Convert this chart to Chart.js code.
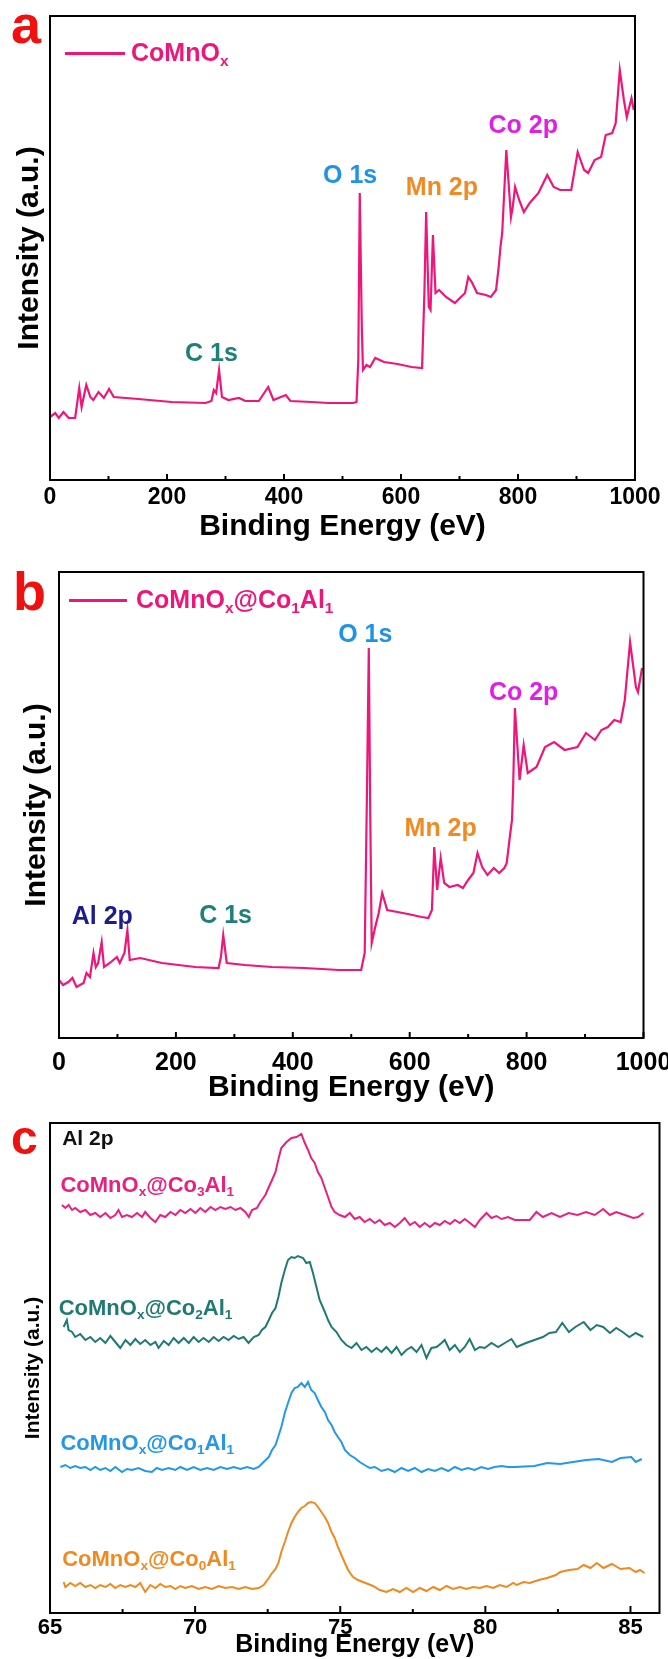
<!DOCTYPE html>
<html>
<head>
<meta charset="utf-8">
<title>XPS spectra</title>
<script src="https://cdn.jsdelivr.net/npm/chart.js@4.4.1/dist/chart.umd.min.js"></script>
<style>
  html, body { margin: 0; padding: 0; background: #fff; }
  #page { position: relative; width: 668px; height: 1659px; overflow: hidden;
          font-family: 'Liberation Sans', Arial, sans-serif; font-weight: bold; }
  #page canvas { position: absolute; left: 0; }
  .txt { position: absolute; white-space: nowrap; line-height: 1; }
  .txt sub { font-size: 0.62em; vertical-align: baseline; position: relative; top: 0.32em; }
  .letter { color: #f01010; }
  .legline { position: absolute; height: 3px; background: #ee1679; }
</style>
</head>
<body>
<div id="page">
  <canvas id="chart-a" width="668" height="545" style="top:0"></canvas>
  <canvas id="chart-b" width="668" height="560" style="top:545px"></canvas>
  <canvas id="chart-c" width="668" height="554" style="top:1105px"></canvas>

  <div class="txt letter" style="left:11px; top:-3px; font-size:54px;">a</div>
  <div class="txt letter" style="left:13px; top:564px; font-size:54px;">b</div>
  <div class="txt letter" style="left:11px; top:1114px; font-size:48px;">c</div>

  <div class="legline" style="left:65px; top:52px; width:60px;"></div>
  <div class="txt" style="left:131px; top:40px; font-size:25px; color:#ee1679;">CoMnO<sub>x</sub></div>
  <div class="legline" style="left:69px; top:599px; width:58px;"></div>
  <div class="txt" style="left:136px; top:587px; font-size:25px; color:#ee1679;">CoMnO<sub>x</sub>@Co<sub>1</sub>Al<sub>1</sub></div>
</div>

<script>
// ---- panel a: survey of CoMnOx (binding energy eV / intensity a.u.)
const surveyA_eV = [0, 9, 15, 23, 32, 43, 50, 54, 62, 69, 74, 83, 92, 101, 109, 151, 208, 266, 276, 280,
  284, 289, 294, 305, 323, 334, 357, 373, 382, 403, 411, 447, 476, 518, 524, 527, 529.5, 533, 535, 541,
  547, 556, 571, 594, 618, 636, 640, 643, 647.5, 650.5, 654.6, 659, 665, 677, 692, 700.6, 709.5, 715, 721, 730,
  745, 753.6, 762.5, 767, 770, 773, 780, 788, 791, 795, 802, 810, 820, 835, 850, 861, 872, 891, 902, 913,
  920, 931, 942, 950, 961, 967, 974, 981, 986, 994, 998];
const surveyA_int = [63, 67, 62, 68, 62, 62, 92, 73, 95, 83, 80, 88, 82, 91, 83, 81, 78, 77, 79, 90,
  87, 110, 83, 80, 82, 79, 79, 93, 80, 85, 79, 78, 77, 77, 78, 120, 287, 153, 110, 115,
  113, 122, 118, 116, 113, 112, 187, 268, 173, 170, 245, 187, 190, 183, 177, 182, 187, 203, 198, 187,
  185, 183, 190, 213, 233, 247, 330, 263, 273, 293, 280, 268, 277, 287, 305, 293, 290, 290, 328, 310,
  307, 320, 323, 345, 347, 357, 410, 380, 363, 382, 370];

// ---- panel b: survey of CoMnOx@Co1Al1
const surveyB_eV = [0, 7, 16, 23, 30, 42, 47, 53, 59, 63, 67, 73, 77, 87, 99, 104, 112, 117, 121, 139,
  176, 233, 273, 277, 281, 287, 318, 364, 420, 479, 517, 523, 527, 530, 532.6, 535, 541, 547, 553, 561.5,
  579, 597, 620.5, 632, 638, 642, 647, 653, 659, 668, 682, 691, 700, 709, 716, 724, 733, 744, 753, 762,
  766, 770, 775, 777, 780, 788, 795, 802, 817, 831.5, 847, 865, 887, 901.6, 917, 928, 939, 950, 961, 968,
  977, 987, 990.6, 997.5];
const surveyB_int = [58, 53, 56, 60, 51, 55, 65, 61, 85, 71, 75, 96, 71, 75, 81, 75, 85, 108, 78, 80,
  75, 71, 70, 81, 103, 75, 73, 71, 70, 68, 68, 85, 251, 390, 218, 95, 111, 125, 145, 128,
  126, 124, 121, 120, 128, 191, 148, 180, 155, 151, 153, 150, 158, 165, 185, 171, 163, 170, 165, 170,
  175, 195, 218, 251, 330, 258, 293, 265, 271, 291, 296, 288, 291, 305, 298, 308, 311, 318, 316, 338,
  396, 351, 346, 370];

// ---- panel c: Al 2p region, four samples (offset stack)
const co3_eV = [65.41, 65.53, 65.64, 65.76, 65.87, 66.04, 66.22, 66.39, 66.56, 66.73,
  66.91, 67.08, 67.25, 67.36, 67.48, 67.65, 67.82, 68.0, 68.17, 68.28,
  68.46, 68.63, 68.8, 68.97, 69.15, 69.32, 69.49, 69.66, 69.84, 70.01,
  70.18, 70.35, 70.53, 70.7, 70.87, 71.04, 71.22, 71.39, 71.56, 71.73,
  71.85, 71.96, 72.13, 72.25, 72.42, 72.54, 72.65, 72.77, 72.88, 72.97,
  73.15, 73.32, 73.49, 73.66, 73.78, 73.89, 74.0, 74.12, 74.23, 74.35,
  74.47, 74.58, 74.7, 74.81, 74.98, 75.16, 75.33, 75.5, 75.67, 75.84,
  76.02, 76.19, 76.36, 76.53, 76.71, 76.88, 77.05, 77.22, 77.4, 77.57,
  77.74, 77.91, 78.09, 78.26, 78.43, 78.6, 78.78, 78.95, 79.12, 79.29,
  79.47, 79.64, 79.81, 80.04, 80.21, 80.38, 80.56, 80.78, 81.02, 81.53,
  81.76, 81.98, 82.28, 82.57, 82.87, 83.17, 83.47, 83.77, 84.06, 84.29,
  84.51, 84.81, 85.1, 85.26, 85.45];
const co3_int = [408, 405, 408, 403, 405, 401, 403, 398, 400, 396,
  400, 395, 398, 403, 396, 398, 396, 400, 396, 401,
  395, 391, 398, 396, 401, 398, 403, 400, 404, 400,
  405, 401, 406, 403, 406, 404, 406, 403, 405, 401,
  396, 403, 405, 411, 418, 426, 433, 441, 455, 465,
  471, 475, 476, 479, 470, 463, 455, 450, 441, 435,
  425, 416, 406, 401, 398, 396, 400, 394, 396, 391,
  394, 390, 393, 388, 390, 386, 390, 395, 388, 391,
  386, 390, 386, 390, 388, 392, 389, 393, 390, 394,
  390, 386, 393, 400, 395, 397, 394, 396, 393, 393,
  401, 396, 400, 396, 400, 398, 401, 398, 404, 398,
  401, 398, 395, 396, 400];

const co2_eV = [65.47, 65.58, 65.64, 65.76, 65.87, 66.04, 66.22, 66.39, 66.56, 66.73,
  66.91, 67.08, 67.25, 67.42, 67.6, 67.77, 67.94, 68.11, 68.28, 68.46,
  68.63, 68.74, 68.92, 69.09, 69.26, 69.43, 69.61, 69.78, 69.95, 70.12,
  70.29, 70.47, 70.64, 70.81, 70.98, 71.15, 71.33, 71.5, 71.67, 71.84,
  72.02, 72.19, 72.3, 72.42, 72.54, 72.65, 72.77, 72.87, 72.97, 73.09,
  73.2, 73.32, 73.43, 73.54, 73.72, 73.83, 73.95, 74.06, 74.18, 74.29,
  74.47, 74.58, 74.7, 74.87, 75.04, 75.21, 75.39, 75.56, 75.73, 75.9,
  76.08, 76.25, 76.42, 76.59, 76.77, 76.94, 77.11, 77.28, 77.45, 77.63,
  77.8, 77.97, 78.14, 78.32, 78.49, 78.6, 78.77, 78.95, 79.12, 79.29,
  79.46, 79.64, 79.81, 79.98, 80.21, 80.44, 80.67, 80.9, 81.08, 81.4,
  81.69, 81.98, 82.21, 82.43, 82.65, 82.88, 83.1, 83.39, 83.62, 83.84,
  84.06, 84.29, 84.51, 84.73, 84.96, 85.18, 85.44];
const co2_int = [286, 293, 283, 281, 276, 279, 273, 276, 271, 275,
  270, 277, 271, 265, 273, 268, 274, 269, 273, 268,
  271, 265, 272, 268, 275, 270, 275, 270, 276, 271,
  275, 271, 276, 272, 276, 273, 277, 274, 276, 270,
  276, 278, 283, 286, 293, 300, 305, 316, 330, 343,
  353, 356, 355, 357, 355, 350, 351, 340, 326, 313,
  301, 293, 286, 281, 273, 268, 265, 270, 263, 266,
  261, 265, 261, 266, 260, 266, 258, 263, 266, 261,
  268, 255, 265, 266, 270, 273, 263, 268, 261, 266,
  274, 263, 266, 265, 270, 266, 270, 274, 266, 270,
  273, 276, 280, 281, 290, 281, 286, 291, 283, 288,
  286, 280, 285, 281, 276, 280, 276];

const co1_eV = [65.36, 65.53, 65.7, 65.87, 66.04, 66.22, 66.39, 66.56, 66.73, 66.91,
  67.08, 67.25, 67.48, 67.65, 67.82, 68.05, 68.28, 68.51, 68.68, 68.86,
  69.09, 69.32, 69.49, 69.72, 69.95, 70.18, 70.41, 70.64, 70.87, 71.1,
  71.33, 71.56, 71.79, 72.02, 72.19, 72.36, 72.54, 72.65, 72.77, 72.86,
  72.97, 73.09, 73.2, 73.32, 73.43, 73.54, 73.66, 73.78, 73.89, 74.0,
  74.12, 74.23, 74.35, 74.47, 74.58, 74.7, 74.81, 74.92, 75.04, 75.16,
  75.33, 75.5, 75.67, 75.84, 76.02, 76.19, 76.42, 76.65, 76.88, 77.11,
  77.34, 77.57, 77.8, 78.03, 78.26, 78.49, 78.72, 78.95, 79.18, 79.4,
  79.63, 79.86, 80.09, 80.32, 80.56, 80.78, 81.02, 81.69, 82.13, 82.58,
  83.02, 83.47, 83.91, 84.36, 84.66, 85.03, 85.18, 85.39];
const co1_int = [146, 148, 145, 147, 145, 146, 143, 146, 143, 145,
  142, 146, 141, 144, 143, 145, 142, 141, 145, 143,
  145, 143, 146, 143, 146, 143, 145, 143, 146, 144,
  146, 144, 146, 144, 146, 151, 156, 163, 168, 176,
  186, 200, 210, 220, 225, 226, 230, 226, 231, 223,
  220, 213, 206, 201, 193, 188, 181, 176, 171, 163,
  158, 155, 151, 148, 145, 146, 142, 144, 141, 145,
  142, 145, 141, 144, 142, 145, 142, 146, 143, 145,
  143, 146, 144, 146, 147, 146, 146, 147, 150, 149,
  151, 153, 154, 151, 155, 156, 151, 154];

const co0_eV = [65.47, 65.53, 65.7, 65.87, 66.04, 66.22, 66.39, 66.56, 66.73, 66.91,
  67.08, 67.25, 67.42, 67.6, 67.77, 67.94, 68.11, 68.28, 68.46, 68.63,
  68.8, 68.97, 69.15, 69.32, 69.49, 69.66, 69.89, 70.12, 70.35, 70.58,
  70.81, 71.04, 71.27, 71.5, 71.73, 71.96, 72.19, 72.36, 72.54, 72.65,
  72.77, 72.87, 72.97, 73.09, 73.2, 73.32, 73.43, 73.54, 73.66, 73.78,
  73.89, 74.0, 74.12, 74.23, 74.35, 74.47, 74.58, 74.7, 74.81, 74.92,
  75.04, 75.16, 75.27, 75.44, 75.61, 75.78, 75.96, 76.13, 76.36, 76.59,
  76.82, 77.05, 77.28, 77.51, 77.74, 77.97, 78.2, 78.43, 78.66, 78.89,
  79.12, 79.35, 79.58, 79.81, 80.04, 80.27, 80.5, 80.73, 80.96, 81.08,
  81.32, 81.53, 81.84, 82.13, 82.43, 82.58, 82.88, 83.17, 83.39, 83.62,
  83.84, 84.07, 84.36, 84.66, 84.96, 85.18, 85.33, 85.48];
const co0_int = [31, 26, 30, 27, 30, 26, 28, 25, 28, 26,
  29, 25, 28, 26, 28, 26, 30, 21, 28, 25,
  29, 26, 27, 24, 27, 25, 27, 24, 26, 24,
  27, 25, 26, 24, 26, 24, 25, 28, 35, 40,
  44, 50, 61, 71, 81, 90, 96, 101, 105, 107,
  110, 111, 110, 106, 101, 96, 90, 81, 75, 66,
  58, 50, 43, 36, 33, 31, 29, 27, 23, 21,
  24, 21, 25, 21, 25, 22, 26, 23, 27, 24,
  26, 24, 26, 25, 27, 25, 28, 26, 30, 28,
  31, 30, 33, 35, 38, 41, 43, 44, 48, 45,
  50, 45, 49, 44, 45, 41, 43, 40];

const FONT = "'Liberation Sans', Arial, Helvetica, sans-serif";
const SURVEY_COLOR = '#ee1679';

// closed frame + inward ticks on the x axis
const framePlugin = {
  id: 'frame',
  afterDatasetsDraw(chart, args, opts) {
    const { ctx, chartArea: a } = chart;
    const x = chart.scales.x;
    ctx.save();
    ctx.strokeStyle = '#000';
    ctx.lineWidth = opts.width;
    x.ticks.forEach(t => {
      const px = x.getPixelForValue(t.value);
      const len = t.label ? opts.major : opts.minor;
      ctx.beginPath();
      ctx.moveTo(px, a.bottom);
      ctx.lineTo(px, a.bottom - len);
      ctx.stroke();
    });
    ctx.strokeRect(a.left, a.top, a.right - a.left, a.bottom - a.top);
    ctx.restore();
  }
};

function xpsChart(id, p) {
  const datasets = p.series.map(s => {
    if (s.x.length !== s.y.length) console.warn('length mismatch', id, s.x.length, s.y.length);
    return {
      data: s.x.map((v, i) => ({ x: v, y: s.y[i] })),
      borderColor: s.color,
      borderWidth: p.lineWidth,
      pointRadius: 0,
      tension: 0,
      fill: false
    };
  });
  return new Chart(document.getElementById(id), {
    type: 'line',
    data: { datasets },
    plugins: [framePlugin],
    options: {
      responsive: false,
      animation: false,
      devicePixelRatio: 1,
      layout: { padding: { top: p.padTop, right: p.padRight, left: 0, bottom: 0 } },
      plugins: { legend: { display: false }, tooltip: { enabled: false }, frame: p.frame },
      scales: {
        x: {
          type: 'linear', min: p.xMin, max: p.xMax,
          grid: { display: false, drawTicks: false },
          border: { display: false },
          ticks: {
            stepSize: p.xStep, autoSkip: false, maxRotation: 0, includeBounds: false,
            padding: p.tickPad, color: '#000',
            font: { family: FONT, size: p.tickSize, weight: 'bold', lineHeight: 1.2 },
            callback: v => (Math.abs(v % p.labelEvery) < 1e-6 ? String(v) : '')
          },
          title: {
            display: true, text: 'Binding Energy (eV)', color: '#000',
            font: { family: FONT, size: p.titleSize, weight: 'bold', lineHeight: 1 },
            padding: { top: 0, bottom: p.titlePad }
          },
          // fixed axis height; edge labels may spill out like in the original
          afterFit: s => { s.height = p.xAxisH; s.paddingLeft = 0; s.paddingRight = 0; }
        },
        y: {
          min: 0, max: p.yMax,
          ticks: { display: false },
          grid: { display: false, drawTicks: false },
          border: { display: false },
          title: {
            display: true, text: 'Intensity (a.u.)', color: '#000',
            font: { family: FONT, size: p.yTitleSize, weight: 'bold', lineHeight: 1 },
            padding: { top: p.yTitlePad, bottom: 0 }
          },
          afterFit: s => { s.width = p.yAxisW; }
        }
      }
    }
  });
}

// text labels placed through the chart scales
function placeLabels(chart, canvasTop, specs) {
  const page = document.getElementById('page');
  specs.forEach(s => {
    const el = document.createElement('div');
    el.className = 'txt';
    el.innerHTML = s.html;
    el.style.color = s.color;
    el.style.fontSize = s.size + 'px';
    el.style.left = chart.scales.x.getPixelForValue(s.x) + 'px';
    el.style.top = (canvasTop + chart.scales.y.getPixelForValue(s.y)) + 'px';
    el.style.transform = s.left ? 'translateY(-50%)' : 'translate(-50%, -50%)';
    page.appendChild(el);
  });
}

const TEAL = '#1f8079', BLUE = '#1f93e6', ORANGE = '#f28a24', MAGENTA = '#e21ee6', NAVY = '#1c1c8f';

try {
  const chartA = xpsChart('chart-a', {
    series: [{ x: surveyA_eV, y: surveyA_int, color: SURVEY_COLOR }],
    lineWidth: 2.2, padTop: 16, padRight: 33, yAxisW: 50, xAxisH: 65,
    xMin: 0, xMax: 1000, xStep: 100, labelEvery: 200, yMax: 464,
    tickSize: 23, tickPad: 4, titleSize: 30, titlePad: 3, yTitleSize: 30, yTitlePad: 15,
    frame: { width: 2, major: 6, minor: 4 }
  });
  placeLabels(chartA, 0, [
    { html: 'C 1s', color: TEAL, x: 276, y: 128, size: 25 },
    { html: 'O 1s', color: BLUE, x: 513, y: 306, size: 25 },
    { html: 'Mn 2p', color: ORANGE, x: 670, y: 294, size: 25 },
    { html: 'Co 2p', color: MAGENTA, x: 809, y: 356, size: 25 }
  ]);

  const chartB = xpsChart('chart-b', {
    series: [{ x: surveyB_eV, y: surveyB_int, color: SURVEY_COLOR }],
    lineWidth: 2.2, padTop: 27, padRight: 24.5, yAxisW: 59, xAxisH: 67,
    xMin: 0, xMax: 1000, xStep: 100, labelEvery: 200, yMax: 466,
    tickSize: 25, tickPad: 10, titleSize: 30, titlePad: 2, yTitleSize: 30, yTitlePad: 22,
    frame: { width: 2, major: 6, minor: 4 }
  });
  placeLabels(chartB, 545, [
    { html: 'Al 2p', color: NAVY, x: 74, y: 123, size: 25 },
    { html: 'C 1s', color: TEAL, x: 285, y: 124, size: 25 },
    { html: 'O 1s', color: BLUE, x: 524, y: 405, size: 25 },
    { html: 'Mn 2p', color: ORANGE, x: 653, y: 211, size: 25 },
    { html: 'Co 2p', color: MAGENTA, x: 795, y: 347, size: 25 }
  ]);

  const chartC = xpsChart('chart-c', {
    series: [
      { x: co3_eV, y: co3_int, color: '#e8207f' },
      { x: co2_eV, y: co2_int, color: '#1f7a72' },
      { x: co1_eV, y: co1_int, color: '#2398e8' },
      { x: co0_eV, y: co0_int, color: '#f0891f' }
    ],
    lineWidth: 2, padTop: 18, padRight: 8.5, yAxisW: 50, xAxisH: 46,
    xMin: 65, xMax: 86, xStep: 2.5, labelEvery: 5, yMax: 490,
    tickSize: 22, tickPad: 2, titleSize: 25, titlePad: 1.5, yTitleSize: 21, yTitlePad: 22.5,
    frame: { width: 2, major: 7, minor: 4 }
  });
  placeLabels(chartC, 1105, [
    { html: 'Al 2p', color: '#111', x: 65.42, y: 476, size: 21, left: true },
    { html: 'CoMnO<sub>x</sub>@Co<sub>3</sub>Al<sub>1</sub>', color: '#e8207f', x: 65.36, y: 428, size: 22, left: true },
    { html: 'CoMnO<sub>x</sub>@Co<sub>2</sub>Al<sub>1</sub>', color: '#1f7a72', x: 65.3, y: 305.5, size: 22, left: true },
    { html: 'CoMnO<sub>x</sub>@Co<sub>1</sub>Al<sub>1</sub>', color: '#2398e8', x: 65.36, y: 170.5, size: 22, left: true },
    { html: 'CoMnO<sub>x</sub>@Co<sub>0</sub>Al<sub>1</sub>', color: '#f0891f', x: 65.42, y: 54, size: 22, left: true }
  ]);
} catch (e) { console.warn('chart build failed:', e); }
</script>
</body>
</html>
